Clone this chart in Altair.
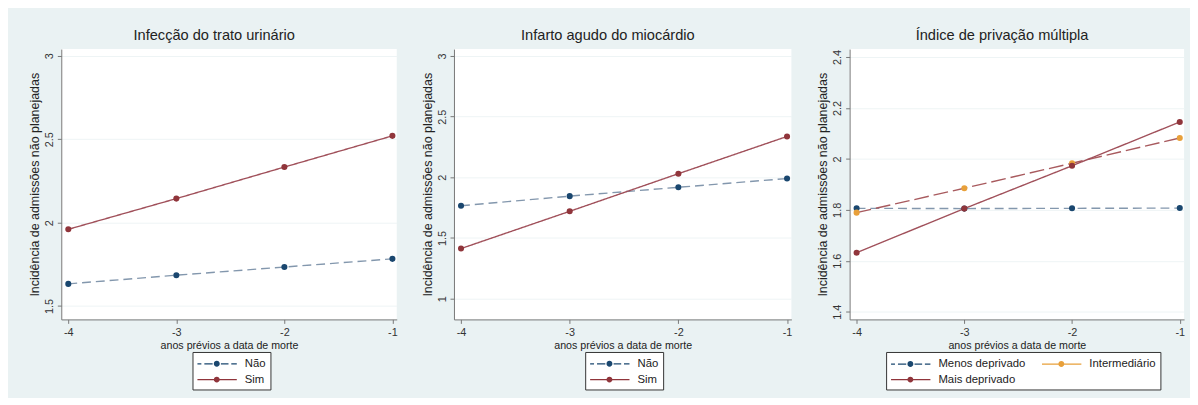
import altair as alt
import pandas as pd

anos = [-4, -3, -2, -1]

# Painel 1: Infecção do trato urinário
itu_nao = [1.633, 1.685, 1.734, 1.783]
itu_sim = [1.960, 2.144, 2.333, 2.520]

# Painel 2: Infarto agudo do miocárdio
iam_nao = [1.766, 1.845, 1.918, 1.990]
iam_sim = [1.413, 1.720, 2.030, 2.337]

# Painel 3: Índice de privação múltipla
ipm_menos = [1.806, 1.805, 1.806, 1.807]
ipm_inter = [1.789, 1.885, 1.983, 2.082]
ipm_mais = [1.632, 1.805, 1.973, 2.145]

titulos = ["Infecção do trato urinário", "Infarto agudo do miocárdio", "Índice de privação múltipla"]
x_titulo = "anos prévios a data de morte"
y_titulo = "Incidência de admissões não planejadas"

y_ticks = [[1.5, 2, 2.5, 3], [1, 1.5, 2, 2.5, 3], [1.4, 1.6, 1.8, 2.0, 2.2, 2.4]]
y_domains = [[1.42, 3.04], [0.829, 3.057], [1.37, 2.431]]
widths = [340, 342, 339]
legend_xy = [(133, 307), (133, 307), (37, 307)]

NAVY = "#1A476F"
MAROON = "#90353B"
ORANGE = "#E8A03A"
LINE_NAVY = "#8397AD"
LINE_MAROON = "#A0505A"
LINE_INTER = "#A85A5E"


def rect(a, b, h=0.09):
    return f"M{a},{-h}H{b}V{h}H{a}Z"


def circ(cx, r=0.43):
    return f"M{cx + r},0A{r},{r} 0 1,1 {cx - r},0A{r},{r} 0 1,1 {cx + r},0Z"


SYM_DASH = rect(-1, -0.43) + rect(0, 1.2) + circ(1.8) + rect(2.4, 3.5) + rect(3.9, 4.7)
SYM_SOLID = rect(-1, 4.7) + circ(1.8)


def panel(idx, grupos, series, marker_colors, line_colors, dashes, syms, cols, leg_order):
    rows = []
    for g, vals in zip(grupos, series):
        for a, v in zip(anos, vals):
            rows.append({"ano": a, "valor": v, "grupo": g})
    df = pd.DataFrame(rows)

    x = alt.X("ano:Q",
              scale=alt.Scale(domain=[-4.065, -0.96], nice=False, zero=False),
              axis=alt.Axis(values=anos, labelExpr="'' + datum.value", title=x_titulo, grid=False))
    y = alt.Y("valor:Q",
              scale=alt.Scale(domain=y_domains[idx], nice=False, zero=False),
              axis=alt.Axis(values=y_ticks[idx], format="~g", title=y_titulo,
                            labelAngle=270, grid=True))

    lx, ly = legend_xy[idx]
    leg = alt.Legend(title=None, orient="none", legendX=lx, legendY=ly, columns=cols,
                     symbolSize=196, labelOffset=33, columnPadding=15)

    # legend (marker) scales follow the legend order; line scales use reversed order
    # so the disabled line legends never merge with the marker legend
    perm = [grupos.index(g) for g in leg_order]
    lo_colors = [marker_colors[i] for i in perm]
    lo_syms = [syms[i] for i in perm]
    rg = grupos[::-1]

    base = alt.Chart(df)
    lines = base.mark_line(strokeWidth=1.4).encode(
        x=x, y=y,
        stroke=alt.Stroke("grupo:N", scale=alt.Scale(domain=rg, range=line_colors[::-1]), legend=None),
        strokeDash=alt.StrokeDash("grupo:N", scale=alt.Scale(domain=rg, range=dashes[::-1]), legend=None),
    )
    pts = base.mark_point(filled=True, size=38, opacity=1).encode(
        x=x, y=y,
        color=alt.Color("grupo:N", scale=alt.Scale(domain=leg_order, range=lo_colors), legend=leg),
    )
    hidden = base.transform_filter("false").mark_point(filled=True, opacity=1).encode(
        x=x, y=y,
        color=alt.Color("grupo:N", scale=alt.Scale(domain=leg_order, range=lo_colors), legend=leg),
        shape=alt.Shape("grupo:N", scale=alt.Scale(domain=leg_order, range=lo_syms), legend=leg),
    )
    return alt.layer(lines, pts, hidden).properties(
        width=widths[idx], height=274,
        title=alt.TitleParams(titulos[idx], dx=-15),
    )


g12 = ["Não", "Sim"]
g3 = ["Menos deprivado", "Intermediário", "Mais deprivado"]

p1 = panel(0, g12, [itu_nao, itu_sim], [NAVY, MAROON], [LINE_NAVY, LINE_MAROON],
           [[9, 5], [1, 0]], [SYM_DASH, SYM_SOLID], 1, g12)
p2 = panel(1, g12, [iam_nao, iam_sim], [NAVY, MAROON], [LINE_NAVY, LINE_MAROON],
           [[9, 5], [1, 0]], [SYM_DASH, SYM_SOLID], 1, g12)
p3 = panel(2, g3, [ipm_menos, ipm_inter, ipm_mais], [NAVY, ORANGE, MAROON],
           [LINE_NAVY, LINE_INTER, LINE_MAROON],
           [[9, 5], [15, 5], [1, 0]], [SYM_DASH, SYM_SOLID, SYM_SOLID], 2,
           ["Menos deprivado", "Mais deprivado", "Intermediário"])

chart = alt.hconcat(p1, p2, p3, spacing=24).resolve_scale(
    color="independent", shape="independent", stroke="independent", strokeDash="independent"
).properties(
    padding={"left": 21, "top": 18, "right": 5, "bottom": 5},
    background="#EAF2F3",
).configure_view(
    fill="white", stroke=None
).configure_axis(
    labelFont="Liberation Sans", titleFont="Liberation Sans",
    labelFontSize=11, titleFontSize=12.6, labelColor="#333333", titleColor="#222222",
    titleFontWeight="normal", domainColor="#777777", tickColor="#777777",
    tickSize=4, gridColor="#EEF4F5", gridWidth=1,
).configure_axisY(
    labelPadding=3, titlePadding=2,
).configure_axisX(
    labelPadding=3, titlePadding=2, titleFontSize=10.8,
).configure_title(
    font="Liberation Sans", fontSize=14.8, fontWeight="normal", color="#222222", offset=6,
).configure_legend(
    labelFont="Liberation Sans", labelFontSize=11.5, labelColor="#222222",
    strokeColor="#333333", fillColor="white", padding=4, rowPadding=2,
    cornerRadius=0,
)

chart.save("out.html", embed_options={"renderer": "svg", "actions": False})
